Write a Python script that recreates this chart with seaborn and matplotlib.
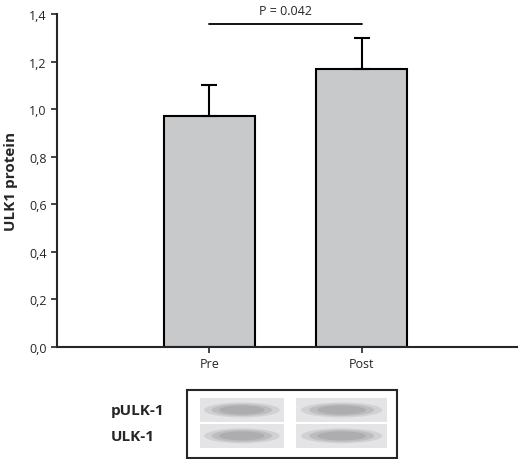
import matplotlib
matplotlib.use("Agg")
import matplotlib.pyplot as plt
import seaborn as sns
import pandas as pd
from matplotlib.patches import Rectangle, Ellipse

# values
groups = ["Pre", "Post"]
means = [0.97, 1.17]
errors = [0.13, 0.13]
p_text = "P = 0.042"
blot_rows = ["pULK-1", "ULK-1"]

df = pd.DataFrame({"group": groups, "ulk1": means})

sns.set_style("ticks")
plt.rcParams["font.family"] = ["Open Sans", "DejaVu Sans"]

fig = plt.figure(figsize=(5.2, 4.6), dpi=100)
ax = fig.add_axes([0.1096, 0.2435, 0.885, 0.7235])

sns.barplot(data=df, x="group", y="ulk1", color="#c8c9cb", width=0.6,
            edgecolor="black", linewidth=1.5, saturation=1, errorbar=None, ax=ax)
ax.errorbar(range(len(groups)), means, yerr=[[0] * len(errors), errors], fmt="none",
            ecolor="black", elinewidth=1.5, capsize=6, capthick=1.5)

ax.set_xlim(-1.0, 2.02)
ax.set_ylim(0, 1.4)
ax.set_yticks([0, 0.2, 0.4, 0.6, 0.8, 1.0, 1.2, 1.4])
ax.set_yticklabels([f"{v:.1f}".replace(".", ",") for v in ax.get_yticks()], fontsize=9)
ax.tick_params(axis="x", labelsize=9, length=4, width=1.2)
ax.tick_params(axis="y", length=4, width=1.2)
ax.set_xlabel("")
ax.set_ylabel("ULK1 protein", fontsize=11, fontweight="bold")
ax.yaxis.set_label_coords(-0.085, 0.5)
for s in ["left", "bottom"]:
    ax.spines[s].set_linewidth(1.5)
sns.despine(ax=ax)

# significance line
ax.plot([0, 1], [1.36, 1.36], color="black", lw=1.3, clip_on=False)
ax.text(0.5, 1.39, p_text, ha="center", va="bottom", fontsize=9, clip_on=False)

# western blot panel (drawn schematically)
bx = fig.add_axes([0.36, 0.003, 0.404, 0.148])
bx.set_xlim(0, 1)
bx.set_ylim(0, 1)
bx.set_xticks([])
bx.set_yticks([])
for s in bx.spines.values():
    s.set_linewidth(1.5)
lanes = [(0.06, 0.46), (0.52, 0.95)]
rows_y = [0.7, 0.32]
for ry in rows_y:
    for x0, x1 in lanes:
        bx.add_patch(Rectangle((x0, ry - 0.18), x1 - x0, 0.36, color="#e4e4e6", lw=0))
        for k, a in [(1.0, 0.25), (0.8, 0.35), (0.6, 0.45)]:
            bx.add_patch(Ellipse(((x0 + x1) / 2, ry), (x1 - x0) * 0.9 * k, 0.22 * k,
                                 color="#9a9a9e", alpha=a, lw=0))
for name, ry in zip(blot_rows, rows_y):
    fig.text(111 / 520, (bx.get_position().y0 + ry * bx.get_position().height),
             name, ha="left", va="center", fontsize=11, fontweight="bold")

fig.savefig("out.png", dpi=100)
